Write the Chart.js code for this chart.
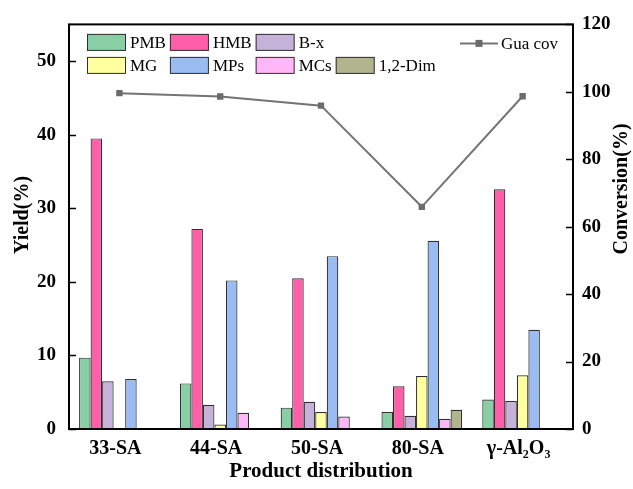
<!DOCTYPE html>
<html>
<head>
<meta charset="utf-8">
<script src="https://cdn.jsdelivr.net/npm/chart.js@4.4.1/dist/chart.umd.min.js"></script>
<style>
  html, body { margin: 0; padding: 0; background: #fff; }
  canvas { display: block; }
</style>
</head>
<body>
<canvas id="chart" width="633" height="489"></canvas>
<script>
// ===================== DATA =====================
const categories = ["33-SA", "44-SA", "50-SA", "80-SA", "γ-Al₂O₃"];

const pmb   = [9.7, 6.2, 2.9, 2.3, 4.0];
const hmb   = [39.5, 27.2, 20.5, 5.8, 32.6];
const bx    = [6.5, 3.3, 3.7, 1.8, 3.8];
const mg    = [0, 0.6, 2.3, 7.2, 7.3];
const mps   = [6.8, 20.2, 23.5, 25.6, 13.5];
const mcs   = [0, 2.2, 1.7, 1.4, 0];
const dim12 = [0, 0, 0, 2.6, 0];

const guaCov = [99.6, 98.6, 95.9, 65.9, 98.7];

const yieldTicks = [0, 10, 20, 30, 40, 50];
const convTicks = [0, 20, 40, 60, 80, 100, 120];

// legend layout: which bar series sit in each row
const legendRows = [[0, 1, 2], [3, 4, 5, 6]];

// ===================== STYLE =====================
const FONT = '"Liberation Serif", "Times New Roman", serif';
const barBorder = "#303030";
const lineGray = "#747474";

function barSet(label, data, color) {
  return {
    type: "bar",
    label: label,
    data: data,
    backgroundColor: color,
    borderColor: barBorder,
    borderWidth: 1.2,
    yAxisID: "y",
    order: 1
  };
}

// ===================== PLUGINS =====================
// frame + inward ticks + vertical axis titles
const framePlugin = {
  id: "frame",
  afterDraw(chart) {
    const ctx = chart.ctx;
    const a = chart.chartArea;
    ctx.save();
    ctx.strokeStyle = "#000";
    ctx.lineWidth = 2;
    ctx.strokeRect(a.left, a.top, a.right - a.left, a.bottom - a.top);

    ctx.lineWidth = 1.5;
    const y = chart.scales.y;
    yieldTicks.forEach(v => {
      const p = Math.round(y.getPixelForValue(v)) + 0.5;
      ctx.beginPath();
      ctx.moveTo(a.left, p);
      ctx.lineTo(a.left + 7, p);
      ctx.stroke();
    });
    const y1 = chart.scales.y1;
    convTicks.forEach(v => {
      const p = Math.round(y1.getPixelForValue(v)) + 0.5;
      ctx.beginPath();
      ctx.moveTo(a.right - 7, p);
      ctx.lineTo(a.right, p);
      ctx.stroke();
    });

    // axis titles, both read bottom-to-top
    ctx.fillStyle = "#000";
    ctx.font = "bold 20px " + FONT;
    ctx.textAlign = "center";
    ctx.textBaseline = "middle";
    [["Yield(%)", 23, 215], ["Conversion(%)", 622, 189]].forEach(([t, x, yy]) => {
      ctx.save();
      ctx.translate(x, yy);
      ctx.rotate(-Math.PI / 2);
      ctx.fillText(t, 0, 0);
      ctx.restore();
    });
    ctx.restore();
  }
};

// grid legend inside plot (Origin style)
const legendPlugin = {
  id: "boxLegend",
  afterDraw(chart) {
    const ctx = chart.ctx;
    const a = chart.chartArea;
    const sets = chart.data.datasets;
    const boxW = 39, boxH = 17, gap = 4, rowH = 23;
    ctx.save();
    ctx.font = "17px " + FONT;
    ctx.textBaseline = "middle";
    ctx.fillStyle = "#000";

    // column widths from the widest text in each column
    const colW = [];
    legendRows.forEach(row => {
      row.forEach((idx, c) => {
        const w = boxW + gap + ctx.measureText(sets[idx].label).width + gap;
        colW[c] = Math.max(colW[c] || 0, w);
      });
    });

    legendRows.forEach((row, r) => {
      let x = a.left + 18;
      const cy = a.top + 18 + r * rowH;
      row.forEach((idx, c) => {
        const d = sets[idx];
        ctx.fillStyle = d.backgroundColor;
        ctx.fillRect(x, cy - boxH / 2, boxW, boxH);
        ctx.strokeStyle = barBorder;
        ctx.lineWidth = 1;
        ctx.strokeRect(x + 0.5, cy - boxH / 2 + 0.5, boxW - 1, boxH - 1);
        ctx.fillStyle = "#000";
        ctx.fillText(d.label, x + boxW + gap, cy + 1);
        x += colW[c];
      });
    });

    // line series legend
    const line = sets.find(d => d.type === "line");
    const lx = 460, ly = a.top + 19;
    ctx.strokeStyle = lineGray;
    ctx.lineWidth = 2;
    ctx.beginPath();
    ctx.moveTo(lx, ly);
    ctx.lineTo(lx + 38, ly);
    ctx.stroke();
    ctx.fillStyle = "#6b6b6b";
    ctx.fillRect(lx + 15.5, ly - 3.5, 7, 7);
    ctx.fillStyle = "#000";
    ctx.fillText(line.label, lx + 41, ly + 1);
    ctx.restore();
  }
};

// ===================== CHART =====================
const ctx = document.getElementById("chart").getContext("2d");

new Chart(ctx, {
  type: "bar",
  data: {
    labels: categories,
    datasets: [
      barSet("PMB", pmb, "#89cfa6"),
      barSet("HMB", hmb, "#ff5ea9"),
      barSet("B-x", bx, "#c4b2d8"),
      barSet("MG", mg, "#ffff9f"),
      barSet("MPs", mps, "#9abcf2"),
      barSet("MCs", mcs, "#ffb7f8"),
      barSet("1,2-Dim", dim12, "#b1b58d"),
      {
        type: "line",
        label: "Gua cov",
        data: guaCov,
        yAxisID: "y1",
        borderColor: lineGray,
        borderWidth: 2,
        pointStyle: "rect",
        pointRadius: 4.5,
        pointBackgroundColor: "#6b6b6b",
        pointBorderColor: "#6b6b6b",
        pointBorderWidth: 0,
        tension: 0,
        order: 0
      }
    ]
  },
  options: {
    responsive: false,
    devicePixelRatio: 1,
    animation: false,
    layout: { padding: { top: 22, left: 0, right: 0, bottom: 0 } },
    datasets: {
      bar: { categoryPercentage: 0.8, barPercentage: 1 }
    },
    plugins: {
      legend: { display: false },
      tooltip: { enabled: false }
    },
    scales: {
      x: {
        grid: { display: false, drawTicks: false },
        border: { display: false },
        ticks: {
          color: "#000",
          font: { family: FONT, size: 20, weight: "bold" },
          padding: 8,
          labelOffset: -4,
          maxRotation: 0
        },
        title: {
          display: true,
          text: "Product distribution",
          color: "#000",
          font: { family: FONT, size: 21, weight: "bold" },
          padding: { top: 0, bottom: 5 }
        },
        afterFit(s) { s.height = 60; }
      },
      y: {
        position: "left",
        min: 0,
        max: 55,
        afterBuildTicks(s) { s.ticks = yieldTicks.map(v => ({ value: v })); },
        grid: { display: false, drawTicks: false },
        border: { display: false },
        ticks: {
          color: "#000",
          font: { family: FONT, size: 19, weight: "bold" },
          padding: 13
        },
        afterFit(s) { s.width = 69; }
      },
      y1: {
        position: "right",
        min: 0,
        max: 120,
        afterBuildTicks(s) { s.ticks = convTicks.map(v => ({ value: v })); },
        grid: { display: false, drawTicks: false },
        border: { display: false },
        ticks: {
          color: "#000",
          font: { family: FONT, size: 19, weight: "bold" },
          padding: 9
        },
        afterFit(s) { s.width = 60; }
      }
    }
  },
  plugins: [framePlugin, legendPlugin]
});
</script>
</body>
</html>
